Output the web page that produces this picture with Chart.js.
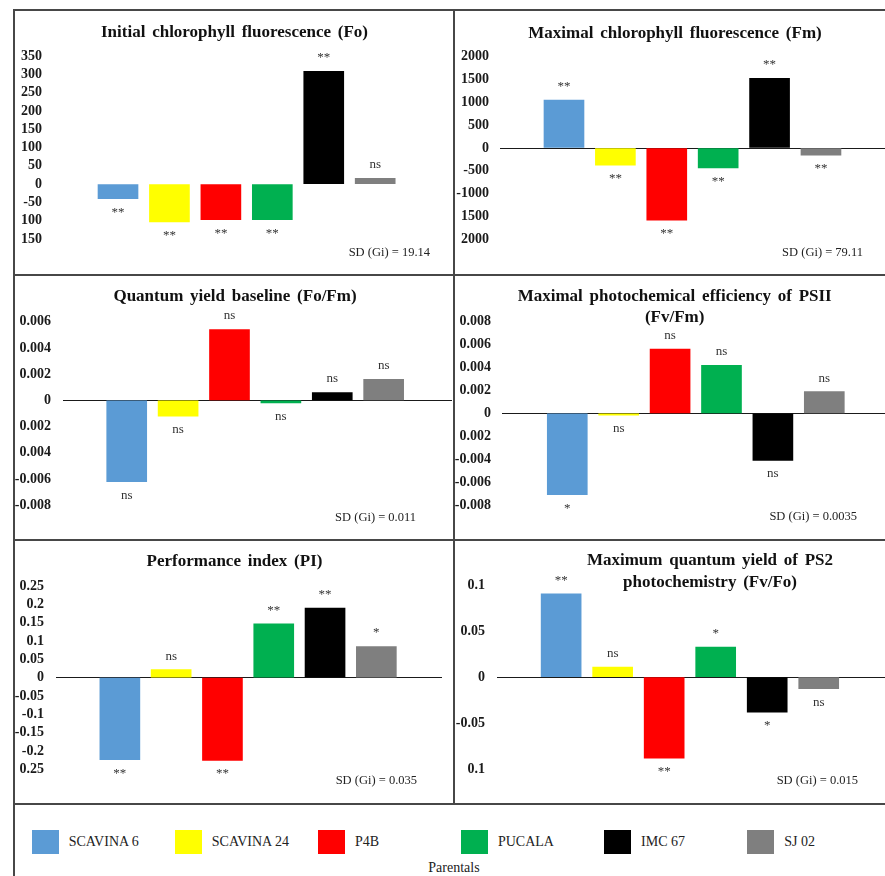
<!DOCTYPE html>
<html>
<head>
<meta charset="utf-8">
<script src="https://cdn.jsdelivr.net/npm/chart.js@4/dist/chart.umd.min.js"></script>
<style>
  html, body { margin: 0; padding: 0; background: #fff; overflow: hidden; }
  #page { position: relative; width: 885px; height: 876px; overflow: hidden; background: #fff; }
  .panel { position: absolute; }
  .panel canvas { display: block; }
  .rule { position: absolute; background: #474747; }
  #legend { position: absolute; left: 31.7px; top: 830px; display: flex; }
  .item { width: 143.1px; height: 24px; display: flex; align-items: center; }
  .sw { width: 27px; height: 24px; margin-right: 10px; flex: none; }
  .lbl { font: 14px 'Liberation Serif', 'DejaVu Serif', serif; color: #222; white-space: nowrap; }
  #axisName { position: absolute; left: 354px; width: 200px; top: 860px; line-height: 16px;
              text-align: center; font: 14px 'Liberation Serif', 'DejaVu Serif', serif; color: #222; }
</style>
</head>
<body>
<div id="page">
  <div class="panel" style="left:14px;top:10px"><canvas id="cFo" width="440" height="265"></canvas></div>
  <div class="panel" style="left:454px;top:10px"><canvas id="cFm" width="442" height="265"></canvas></div>
  <div class="panel" style="left:14px;top:275px"><canvas id="cFoFm" width="440" height="265"></canvas></div>
  <div class="panel" style="left:454px;top:275px"><canvas id="cFvFm" width="442" height="265"></canvas></div>
  <div class="panel" style="left:14px;top:540px"><canvas id="cPI" width="440" height="264"></canvas></div>
  <div class="panel" style="left:454px;top:540px"><canvas id="cFvFo" width="442" height="264"></canvas></div>

  <!-- frame rules -->
  <div class="rule" style="left:13px;top:9px;width:880px;height:2px"></div>
  <div class="rule" style="left:13px;top:9px;width:2px;height:870px"></div>
  <div class="rule" style="left:13px;top:274px;width:880px;height:2px"></div>
  <div class="rule" style="left:13px;top:539px;width:880px;height:2px"></div>
  <div class="rule" style="left:13px;top:803px;width:880px;height:2px"></div>
  <div class="rule" style="left:453px;top:9px;width:2px;height:795px"></div>

  <div id="legend"></div>
  <div id="axisName">Parentals</div>
</div>

<script>
// ---- data -------------------------------------------------------------
const parentals = ['SCAVINA 6', 'SCAVINA 24', 'P4B', 'PUCALA', 'IMC 67', 'SJ 02'];

const foTitle = ['Initial chlorophyll fluorescence (Fo)'];
const foValues = [-40, -103, -97, -97, 308, 16];
const foSig = ['**', '**', '**', '**', '**', 'ns'];
const foTicks = ['350', '300', '250', '200', '150', '100', '50', '0', '-50', '100', '150'];
const foSD = 'SD (Gi) = 19.14';

const fmTitle = ['Maximal chlorophyll fluorescence (Fm)'];
const fmValues = [1048, -377, -1583, -436, 1524, -158];
const fmSig = ['**', '**', '**', '**', '**', '**'];
const fmTicks = ['2000', '1500', '1000', '500', '0', '-500', '-1000', '1500', '2000'];
const fmSD = 'SD (Gi) = 79.11';

const fofmTitle = ['Quantum yield baseline (Fo/Fm)'];
const fofmValues = [-0.0062, -0.0012, 0.0054, -0.0002, 0.0006, 0.0016];
const fofmSig = ['ns', 'ns', 'ns', 'ns', 'ns', 'ns'];
const fofmTicks = ['0.006', '0.004', '0.002', '0', '0.002', '0.004', '-0.006', '-0.008'];
const fofmSD = 'SD (Gi) = 0.011';

const fvfmTitle = ['Maximal photochemical efficiency of PSII', '(Fv/Fm)'];
const fvfmValues = [-0.0071, -0.00015, 0.0056, 0.0042, -0.0041, 0.0019];
const fvfmSig = ['*', 'ns', 'ns', 'ns', 'ns', 'ns'];
const fvfmTicks = ['0.008', '0.006', '0.004', '0.002', '0', '0.002', '-0.004', '-0.006', '-0.008'];
const fvfmSD = 'SD (Gi) = 0.0035';

const piTitle = ['Performance index (PI)'];
const piValues = [-0.224, 0.022, -0.226, 0.147, 0.190, 0.085];
const piSig = ['**', 'ns', '**', '**', '**', '*'];
const piTicks = ['0.25', '0.2', '0.15', '0.1', '0.05', '0', '-0.05', '-0.1', '-0.15', '-0.2', '0.25'];
const piSD = 'SD (Gi) = 0.035';

const fvfoTitle = ['Maximum quantum yield of PS2', 'photochemistry (Fv/Fo)'];
const fvfoValues = [0.0905, 0.011, -0.088, 0.0325, -0.038, -0.0125];
const fvfoSig = ['**', 'ns', '**', '*', '*', 'ns'];
const fvfoTicks = ['0.1', '0.05', '0', '-0.05', '0.1'];
const fvfoSD = 'SD (Gi) = 0.015';

// ---- styles -----------------------------------------------------------
const barColors = ['#5B9BD5', '#FFFF00', '#FF0000', '#00B050', '#000000', '#7F7F7F'];
const SERIF = "'Liberation Serif', 'DejaVu Serif', serif";

// ---- small drawing plugins -------------------------------------------
const panelTitle = {
  id: 'panelTitle',
  afterDraw(chart, args, o) {
    const ctx = chart.ctx;
    ctx.save();
    ctx.font = 'bold ' + o.size + 'px ' + SERIF;
    if ('wordSpacing' in ctx) ctx.wordSpacing = o.wordSpacing + 'px';
    ctx.fillStyle = '#111';
    ctx.textAlign = 'center';
    ctx.textBaseline = 'middle';
    o.lines.forEach((t, i) => ctx.fillText(t, o.x, o.y + i * o.lineHeight));
    ctx.restore();
  }
};

const sigMarks = {
  id: 'sigMarks',
  afterDatasetsDraw(chart, args, o) {
    const ctx = chart.ctx;
    const meta = chart.getDatasetMeta(0);
    const data = chart.data.datasets[0].data;
    ctx.save();
    ctx.font = o.size + 'px ' + SERIF;
    ctx.fillStyle = '#333';
    ctx.textAlign = 'center';
    ctx.textBaseline = 'middle';
    meta.data.forEach((bar, i) => {
      const up = data[i].y >= 0;
      ctx.fillText(o.marks[i], bar.x, up ? bar.y - o.gap : bar.y + o.gap);
    });
    ctx.restore();
  }
};

const sdNote = {
  id: 'sdNote',
  afterDraw(chart, args, o) {
    const ctx = chart.ctx;
    ctx.save();
    ctx.font = o.size + 'px ' + SERIF;
    ctx.fillStyle = '#222';
    ctx.textAlign = 'right';
    ctx.textBaseline = 'middle';
    ctx.fillText(o.text, o.x, o.y);
    ctx.restore();
  }
};

// ---- panel factory ----------------------------------------------------
function makePanel(id, p) {
  const pts = p.values.map((v, i) => ({ x: i, y: v }));
  return new Chart(document.getElementById(id), {
    type: 'bar',
    data: {
      datasets: [{
        label: p.title.join(' '),
        data: pts,
        backgroundColor: barColors,
        borderWidth: 0,
        barThickness: 40
      }]
    },
    plugins: [panelTitle, sigMarks, sdNote],
    options: {
      responsive: false,
      animation: false,
      events: [],
      layout: { padding: { left: 0, right: p.padR, top: p.caTop, bottom: p.padB } },
      scales: {
        x: {
          type: 'linear',
          display: false,
          offset: false,
          min: p.xRange[0],
          max: p.xRange[1],
          grid: { display: false, offset: false },
          ticks: { stepSize: 1, includeBounds: false }
        },
        y: {
          min: p.yMin,
          max: p.yMax,
          afterFit: s => { s.width = p.axisW; },
          border: { display: false },
          grid: {
            drawTicks: false,
            lineWidth: 1,
            color: c => (p.zeroLine && c.tick && Math.abs(c.tick.value) < 1e-9) ? '#1a1a1a' : 'rgba(0,0,0,0)'
          },
          ticks: {
            stepSize: p.step,
            autoSkip: false,
            padding: p.tickPad,
            color: '#1a1a1a',
            font: { family: SERIF, size: 14, weight: 'bold' },
            callback: (v, i, arr) => p.ticks[arr.length - 1 - i]
          }
        }
      },
      plugins: {
        legend: { display: false },
        tooltip: { enabled: false },
        title: { display: false },
        panelTitle: { lines: p.title, x: p.titleX, y: p.titleY, lineHeight: p.titleLH || 21, size: 17, wordSpacing: 2.5 },
        sigMarks: { marks: p.sig, gap: 13.5, size: 13 },
        sdNote: { text: p.sd, x: p.sdX, y: p.sdY, size: 12.5 }
      }
    }
  });
}

makePanel('cFo', {
  title: foTitle, values: foValues, sig: foSig, ticks: foTicks, sd: foSD,
  yMin: -150, yMax: 350, step: 50, zeroLine: false,
  caTop: 46, padB: 36, padR: 14, axisW: 32, tickPad: 4, xRange: [-1.40, 6.26],
  titleX: 220.5, titleY: 23, sdX: 416, sdY: 243
});

makePanel('cFm', {
  title: fmTitle, values: fmValues, sig: fmSig, ticks: fmTicks, sd: fmSD,
  yMin: -2000, yMax: 2000, step: 500, zeroLine: true,
  caTop: 46.7, padB: 35.7, padR: 0, axisW: 46, tickPad: 11, xRange: [-1.245, 6.46],
  titleX: 221, titleY: 23.3, sdX: 409, sdY: 243
});

makePanel('cFoFm', {
  title: fofmTitle, values: fofmValues, sig: fofmSig, ticks: fofmTicks, sd: fofmSD,
  yMin: -0.008, yMax: 0.006, step: 0.002, zeroLine: true,
  caTop: 46.7, padB: 34.7, padR: 2, axisW: 49, tickPad: 12, xRange: [-1.24, 6.33],
  titleX: 221, titleY: 22, sdX: 402, sdY: 242.7
});

makePanel('cFvFm', {
  title: fvfmTitle, values: fvfmValues, sig: fvfmSig, ticks: fvfmTicks, sd: fvfmSD,
  yMin: -0.008, yMax: 0.008, step: 0.002, zeroLine: true,
  caTop: 46.7, padB: 35, padR: 0, axisW: 48, tickPad: 11, xRange: [-1.27, 6.395],
  titleX: 220.7, titleY: 21.7, titleLH: 20.6, sdX: 403, sdY: 241.7
});

makePanel('cPI', {
  title: piTitle, values: piValues, sig: piSig, ticks: piTicks, sd: piSD,
  yMin: -0.25, yMax: 0.25, step: 0.05, zeroLine: true,
  caTop: 46, padB: 34.7, padR: 12, axisW: 42, tickPad: 12, xRange: [-1.245, 6.28],
  titleX: 220.5, titleY: 21.7, sdX: 403, sdY: 240.7
});

makePanel('cFvFo', {
  title: fvfoTitle, values: fvfoValues, sig: fvfoSig, ticks: fvfoTicks, sd: fvfoSD,
  yMin: -0.1, yMax: 0.1, step: 0.05, zeroLine: true,
  caTop: 45, padB: 34.7, padR: 0, axisW: 43, tickPad: 12, xRange: [-1.245, 6.5],
  titleX: 256, titleY: 20.7, titleLH: 21.6, sdX: 404, sdY: 240.7
});

// ---- shared legend ----------------------------------------------------
const legend = document.getElementById('legend');
parentals.forEach((name, i) => {
  const item = document.createElement('div');
  item.className = 'item';
  const sw = document.createElement('div');
  sw.className = 'sw';
  sw.style.background = barColors[i];
  const lbl = document.createElement('span');
  lbl.className = 'lbl';
  lbl.textContent = name;
  item.appendChild(sw);
  item.appendChild(lbl);
  legend.appendChild(item);
});
</script>
</body>
</html>
